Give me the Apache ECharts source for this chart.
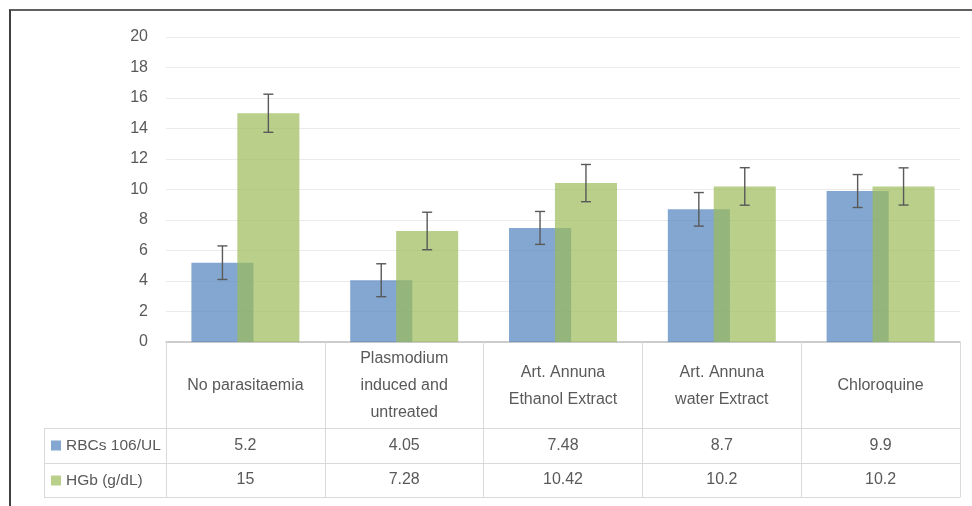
<!DOCTYPE html>
<html>
<head>
<meta charset="utf-8">
<script src="https://cdn.jsdelivr.net/npm/echarts@6/dist/echarts.min.js"></script>
<style>
html,body{margin:0;padding:0;background:#fff;}
#chart{width:972px;height:506px;}
</style>
</head>
<body>
<div id="chart"></div>
<script>
// ---- data ----
var categories = ["No parasitaemia", "Plasmodium\ninduced and\nuntreated", "Art. Annuna\nEthanol Extract", "Art. Annuna\nwater Extract", "Chloroquine"];
var seriesNames = ["RBCs 106/UL", "HGb (g/dL)"];
var rbcValues = [5.2, 4.05, 7.48, 8.7, 9.9];
var hgbValues = [15, 7.28, 10.42, 10.2, 10.2];
var rbcErrors = [1.1, 1.08, 1.08, 1.1, 1.08];
var hgbErrors = [1.25, 1.23, 1.22, 1.23, 1.22];
var yTicks = [0, 2, 4, 6, 8, 10, 12, 14, 16, 18, 20];

// ---- layout / style ----
var FONT = "Liberation Sans";
var TXT = "#595959";
var GRID = {left: 166, right: 12, top: 37, bottom: 164};
var CAT_GAP = 0.32, BAR_GAP = -0.26;
var ROW1 = 86, ROW2 = 121, ROW3 = 155; // table line offsets below axis
var colors = ["#4F81BD", "#9BBB59"];

function errSeries(vals, errs, idx) {
  return {
    type: 'custom',
    z: 10,
    silent: true,
    data: vals.map(function (v, i) { return [i, v, errs[i]]; }),
    encode: {x: 0, y: 1},
    renderItem: function (params, api) {
      var band = api.size([1, 0])[0];
      var bw = band * (1 - CAT_GAP) / (2 + BAR_GAP);
      var total = bw * (2 + BAR_GAP);
      var off = -total / 2 + idx * bw * (1 + BAR_GAP) + bw / 2;
      var c = api.value(0), v = api.value(1), e = api.value(2);
      var top = api.coord([c, v + e]);
      var bot = api.coord([c, v - e]);
      var x = top[0] + off;
      var cap = 5;
      var st = {stroke: '#595959', lineWidth: 1.4};
      return {
        type: 'group',
        children: [
          {type: 'line', shape: {x1: x, y1: top[1], x2: x, y2: bot[1]}, style: st},
          {type: 'line', shape: {x1: x - cap, y1: top[1], x2: x + cap, y2: top[1]}, style: st},
          {type: 'line', shape: {x1: x - cap, y1: bot[1], x2: x + cap, y2: bot[1]}, style: st}
        ]
      };
    }
  };
}

var chart = echarts.init(document.getElementById('chart'));
var lineColor = '#d9d9d9';
var H = 506;
var axisY = H - GRID.bottom;

var option = {
  animation: false,
  backgroundColor: '#fff',
  textStyle: {fontFamily: FONT},
  grid: GRID,
  legend: {
    orient: 'vertical',
    left: 51,
    top: axisY + ROW1 + 7.5,
    padding: 0,
    itemWidth: 10,
    itemHeight: 10,
    itemGap: 15,
    icon: 'rect',
    data: seriesNames,
    textStyle: {fontFamily: FONT, fontSize: 15.5, color: TXT, lineHeight: 20}
  },
  xAxis: [
    {
      type: 'category',
      data: categories,
      position: 'bottom',
      axisLine: {show: true, lineStyle: {color: '#bfbfbf', width: 1.5}},
      axisTick: {show: true, length: ROW3, lineStyle: {color: lineColor}},
      axisLabel: {
        fontFamily: FONT, fontSize: 16, color: TXT, lineHeight: 27,
        verticalAlign: 'middle', margin: ROW1 / 2 + 1, interval: 0
      }
    },
    {
      type: 'category',
      data: categories,
      position: 'bottom',
      offset: ROW1,
      axisLine: {show: true, lineStyle: {color: lineColor}},
      axisTick: {show: false},
      axisLabel: {
        fontFamily: FONT, fontSize: 16, color: TXT, verticalAlign: 'middle',
        margin: (ROW2 - ROW1) / 2, interval: 0,
        formatter: function (v, i) { return String(rbcValues[i]); }
      }
    },
    {
      type: 'category',
      data: categories,
      position: 'bottom',
      offset: ROW2,
      axisLine: {show: true, lineStyle: {color: lineColor}},
      axisTick: {show: false},
      axisLabel: {
        fontFamily: FONT, fontSize: 16, color: TXT, verticalAlign: 'middle',
        margin: (ROW3 - ROW2) / 2, interval: 0,
        formatter: function (v, i) { return String(hgbValues[i]); }
      }
    },
    {
      type: 'category',
      data: categories,
      position: 'bottom',
      offset: ROW3,
      axisLine: {show: true, lineStyle: {color: lineColor}},
      axisTick: {show: false},
      axisLabel: {show: false}
    }
  ],
  yAxis: {
    type: 'value',
    min: yTicks[0],
    max: yTicks[yTicks.length - 1],
    interval: yTicks[1] - yTicks[0],
    axisLine: {show: false},
    axisTick: {show: false},
    axisLabel: {fontFamily: FONT, fontSize: 16, color: TXT, margin: 18},
    splitLine: {lineStyle: {color: '#ebebeb', width: 1}}
  },
  series: [
    {
      name: seriesNames[0], type: 'bar', data: rbcValues,
      barCategoryGap: (CAT_GAP * 100) + '%', barGap: (BAR_GAP * 100) + '%',
      itemStyle: {color: colors[0], opacity: 0.7}
    },
    {
      name: seriesNames[1], type: 'bar', data: hgbValues,
      barCategoryGap: (CAT_GAP * 100) + '%', barGap: (BAR_GAP * 100) + '%',
      itemStyle: {color: colors[1], opacity: 0.7}
    },
    errSeries(rbcValues, rbcErrors, 0),
    errSeries(hgbValues, hgbErrors, 1)
  ],
  graphic: [
    // outer frame (top and left)
    {type: 'line', shape: {x1: 9, y1: 10, x2: 972, y2: 10}, style: {stroke: '#606060', lineWidth: 2}},
    {type: 'line', shape: {x1: 10, y1: 10, x2: 10, y2: 506}, style: {stroke: '#404040', lineWidth: 2}},
    // legend cell borders
    {type: 'line', shape: {x1: 44, y1: axisY + ROW1 + 0.5, x2: GRID.left, y2: axisY + ROW1 + 0.5}, style: {stroke: lineColor, lineWidth: 1}},
    {type: 'line', shape: {x1: 44, y1: axisY + ROW2 + 0.5, x2: GRID.left, y2: axisY + ROW2 + 0.5}, style: {stroke: lineColor, lineWidth: 1}},
    {type: 'line', shape: {x1: 44, y1: axisY + ROW3 + 0.5, x2: GRID.left, y2: axisY + ROW3 + 0.5}, style: {stroke: lineColor, lineWidth: 1}},
    {type: 'line', shape: {x1: 44.5, y1: axisY + ROW1, x2: 44.5, y2: axisY + ROW3}, style: {stroke: lineColor, lineWidth: 1}}
  ]
};
chart.setOption(option);
</script>
</body>
</html>
